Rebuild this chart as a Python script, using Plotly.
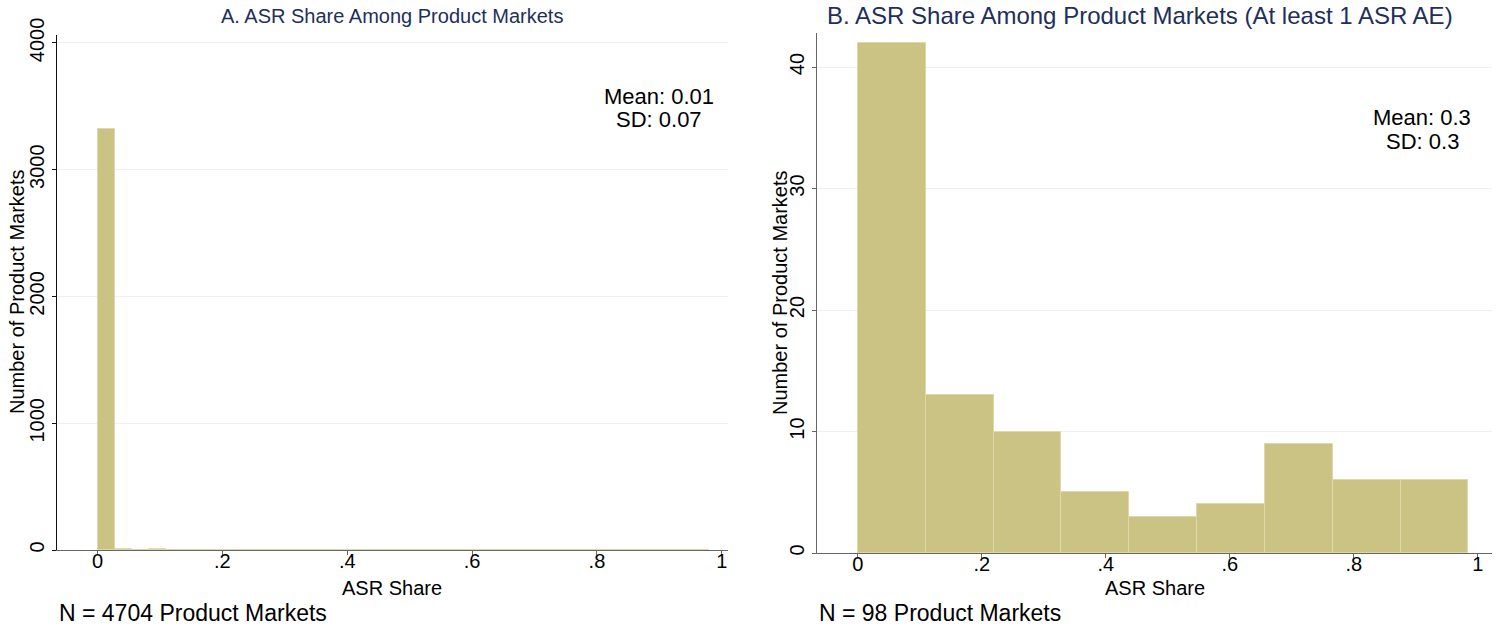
import numpy as np
import plotly.graph_objects as go

# Panel A: 36 equal-width bins of ASR share across all product markets
a_max_share = 0.98
a_counts = [3320, 8, 2, 10, 2, 1, 2, 2, 1, 1, 2, 1, 2, 1, 0, 2, 1, 0,
            0, 1, 0, 2, 1, 2, 0, 1, 2, 1, 2, 1, 0, 2, 1, 0, 2, 2]

# Panel B: 9 equal-width bins, markets with at least one ASR adverse event
b_max_share = 0.985
b_counts = [42, 13, 10, 5, 3, 4, 9, 6, 6]

x_tickvals = [0, 0.2, 0.4, 0.6, 0.8, 1.0]
x_ticktext = ["0", ".2", ".4", ".6", ".8", "1"]
a_yticks = [0, 1000, 2000, 3000, 4000]
b_yticks = [0, 10, 20, 30, 40]

a_stats = ["Mean: 0.01", "SD: 0.07"]
b_stats = ["Mean: 0.3", "SD: 0.3"]
a_note = "N = 4704 Product Markets"
b_note = "N = 98 Product Markets"
a_title = "A. ASR Share Among Product Markets"
b_title = "B. ASR Share Among Product Markets (At least 1 ASR AE)"

W, H = 1504, 629
BAR = "#cbc383"
EDGE = "#ddd8aa"
GRID = "#eaf1f3"
TITLE_C = "#1e2f5a"
FONT = "Liberation Sans, Arial, sans-serif"


def centers(counts, top):
    w = top / len(counts)
    return (np.arange(len(counts)) + 0.5) * w, w


fig = go.Figure()
ax_, aw = centers(a_counts, a_max_share)
bx_, bw = centers(b_counts, b_max_share)

fig.add_trace(go.Bar(x=ax_, y=a_counts, width=aw, xaxis="x", yaxis="y",
                     marker=dict(color=BAR, line=dict(color=EDGE, width=1)),
                     showlegend=False))
fig.add_trace(go.Bar(x=bx_, y=b_counts, width=bw, xaxis="x2", yaxis="y2",
                     marker=dict(color=BAR, line=dict(color=EDGE, width=1)),
                     showlegend=False))


def px_x(p):
    return p / W


def px_y(p):
    return 1 - p / H


axis_common = dict(showline=True, ticks="outside", ticklen=4,
                   tickfont=dict(size=20, color="#000", family=FONT),
                   zeroline=False, automargin=False)

fig.update_layout(
    width=W, height=H, autosize=False,
    margin=dict(l=0, r=0, t=0, b=0, autoexpand=False),
    paper_bgcolor="white", plot_bgcolor="white",
    font=dict(family=FONT, color="#000"),
    bargap=0,
    xaxis=dict(domain=[px_x(57), px_x(728)], range=[-0.065, 1.01],
               tickvals=x_tickvals, ticktext=x_ticktext, showgrid=False,
               linecolor="#666", tickcolor="#666", anchor="y",
               ticklabelstandoff=-11, **axis_common),
    yaxis=dict(domain=[px_y(550), px_y(35)], range=[0, 4063],
               tickvals=a_yticks, tickangle=-90, showgrid=True, gridcolor=GRID,
               linecolor="#111", tickcolor="#111", anchor="x", **axis_common),
    xaxis2=dict(domain=[px_x(817), px_x(1492)], range=[-0.066, 1.023],
                tickvals=x_tickvals, ticktext=x_ticktext, showgrid=False,
                linecolor="#666", tickcolor="#666", anchor="y2",
                ticklabelstandoff=-11, **axis_common),
    yaxis2=dict(domain=[px_y(553), px_y(33)], range=[0, 42.8],
                tickvals=b_yticks, tickangle=-90, showgrid=True, gridcolor=GRID,
                linecolor="#666", tickcolor="#666", anchor="x2", **axis_common),
)

ann = []


def text(x, y, s, size=19, color="#000", angle=0, xanchor="center"):
    ann.append(dict(x=px_x(x), y=px_y(y), xref="paper", yref="paper", text=s,
                    showarrow=False, textangle=angle, xanchor=xanchor,
                    yanchor="middle", font=dict(size=size, color=color, family=FONT)))


# panel titles
text(392, 16, a_title, size=20, color=TITLE_C)
text(1140, 15, b_title, size=24, color=TITLE_C)
# axis titles
text(17, 292, "Number of Product Markets", size=20, angle=-90)
text(780, 292, "Number of Product Markets", size=20, angle=-90)
text(392, 588, "ASR Share", size=20)
text(1155, 588, "ASR Share", size=20)
# summary statistics
text(659, 96, a_stats[0], size=22)
text(659, 120, a_stats[1], size=22)
text(1422, 117, b_stats[0], size=22)
text(1422, 141, b_stats[1], size=22)
# sample notes
text(57, 613, a_note, size=23, xanchor="left")
text(817, 613, b_note, size=23, xanchor="left")

fig.update_layout(annotations=ann)
fig.write_html("out.html")
